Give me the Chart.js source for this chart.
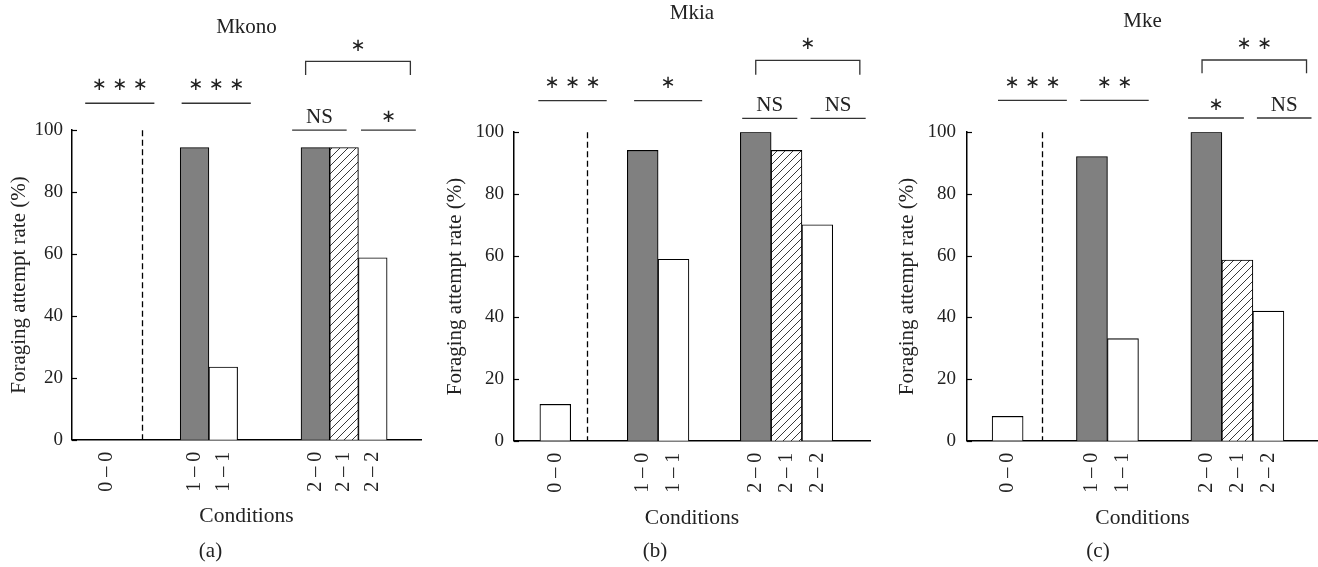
<!DOCTYPE html>
<html>
<head>
<meta charset="utf-8">
<script src="https://cdn.jsdelivr.net/npm/chart.js@4.4.1/dist/chart.umd.min.js"></script>
<style>
    body { margin: 0; background: #fff; }
    #wrap { position: relative; width: 1318px; height: 567px; }
    canvas { position: absolute; top: 0; }
</style>
</head>
<body>
<div id="wrap">
    <canvas id="chartA" width="440" height="567" style="left:0px"></canvas>
    <canvas id="chartB" width="438" height="567" style="left:440px"></canvas>
    <canvas id="chartC" width="440" height="567" style="left:878px"></canvas>
</div>
<script>
// data
var conditions = ["0 – 0", "1 – 0", "1 – 1", "2 – 0", "2 – 1", "2 – 2"];
var rateMkono = [0, 94.4, 23.5, 94.4, 94.4, 58.8];
var rateMkia = [11.8, 94.1, 58.8, 100, 94.1, 70.0];
var rateMke = [7.9, 92.1, 33.1, 100, 58.6, 42.0];
var yTickValues = [0, 20, 40, 60, 80, 100];
var monkeys = ["Mkono", "Mkia", "Mke"];
var panelTags = ["(a)", "(b)", "(c)"];
// significance: [0-0 vs rest, 1-0 vs 1-1, 2-0 vs 2-1, 2-1 vs 2-2, 2-0 vs 2-2]
var sigMkono = ["***", "***", "NS", "*", "*"];
var sigMkia = ["***", "*", "NS", "NS", "*"];
var sigMke = ["***", "**", "*", "NS", "**"];

var rates = [rateMkono, rateMkia, rateMke];
var sigs = [sigMkono, sigMkia, sigMke];

Chart.defaults.font.family = "'Liberation Serif', 'Times New Roman', serif";
Chart.defaults.color = "#222";

// hatch pattern for the 2 - 1 bars
function makeHatch() {
    var c = document.createElement("canvas");
    c.width = 8; c.height = 8;
    var g = c.getContext("2d");
    g.fillStyle = "#fff";
    g.fillRect(0, 0, 8, 8);
    g.strokeStyle = "#222";
    g.lineWidth = 0.9;
    g.beginPath();
    g.moveTo(0, 8); g.lineTo(8, 0);
    g.moveTo(-1, 1); g.lineTo(1, -1);
    g.moveTo(7, 9); g.lineTo(9, 7);
    g.stroke();
    return g.createPattern(c, "repeat");
}
var hatch = makeHatch();
var fills = ["#fff", "#808080", "#fff", "#808080", hatch, "#fff"];

// layout per panel (x in bar-width units, y in %)
var panels = [
    { id: "chartA", xMax: 12.16, xPos: [1.22, 4.27, 5.27, 8.48, 9.48, 10.48], dashX: 2.44,
      yAxisWidth: 72, yTitlePad: 7, yTickPad: 9, padRight: 19, xAxisHeight: 95, xTitlePad: 6,
      titlePad: { top: 15, bottom: 90 },
      lines: [[0.46, 2.87, 108.7, 17.5], [3.82, 6.23, 108.7, 17.5], [7.67, 9.57, 100, 12.5], [10.07, 11.98, 100, 12.5]],
      bracket: [8.14, 11.79, 122.2, 117.8] },
    { id: "chartB", xMax: 11.56, xPos: [1.34, 4.18, 5.18, 7.85, 8.85, 9.85], dashX: 2.38,
      yAxisWidth: 74, yTitlePad: 3, yTickPad: 10, padRight: 8, xAxisHeight: 94, xTitlePad: 4,
      titlePad: { top: 1, bottom: 106 },
      lines: [[0.79, 3.01, 110.2, 17.5], [3.9, 6.11, 110.2, 17.5], [7.41, 9.2, 104.5, 12.5], [9.63, 11.42, 104.5, 12.5]],
      bracket: [7.85, 11.23, 123.3, 118.6] },
    { id: "chartC", xMax: 11.32, xPos: [1.31, 4.03, 5.03, 7.72, 8.72, 9.72], dashX: 2.41,
      yAxisWidth: 89, yTitlePad: 16.5, yTickPad: 11, padRight: 0, xAxisHeight: 94, xTitlePad: 4,
      titlePad: { top: 9, bottom: 98 },
      lines: [[1.0, 3.22, 110.3, 17.5], [3.65, 5.86, 110.3, 17.5], [7.13, 8.93, 104.6, 12.5], [9.35, 11.11, 104.6, 12.5]],
      bracket: [7.58, 10.95, 123.4, 119.1] }
];

function drawMark(ctx, text, cx, cy) {
    ctx.textAlign = "center";
    ctx.textBaseline = "middle";
    if (text === "NS") {
        ctx.font = "21px 'Liberation Serif', serif";
        ctx.fillText(text, cx, cy);
        return;
    }
    ctx.font = "18px 'DejaVu Sans', sans-serif";
    var n = text.length;
    for (var i = 0; i < n; i++) {
        ctx.fillText("\u2217", cx + (i - (n - 1) / 2) * 20.5, cy);
    }
}

function sigPlugin(p, labels) {
    return {
        id: "sigMarks",
        afterDraw: function (chart) {
            var ctx = chart.ctx;
            var xs = chart.scales.x, ys = chart.scales.y, area = chart.chartArea;
            ctx.save();
            ctx.fillStyle = "#222";

            // y ticks pointing inward
            ctx.strokeStyle = "#000";
            ctx.lineWidth = 1.2;
            yTickValues.forEach(function (v) {
                var py = Math.round(ys.getPixelForValue(v)) + 0.5;
                ctx.beginPath();
                ctx.moveTo(area.left, py);
                ctx.lineTo(area.left + 5, py);
                ctx.stroke();
            });

            // dashed separator after 0 - 0
            var dx = Math.round(xs.getPixelForValue(p.dashX)) + 0.5;
            ctx.setLineDash([6, 3.5]);
            ctx.lineWidth = 1.3;
            ctx.beginPath();
            ctx.moveTo(dx, ys.getPixelForValue(100));
            ctx.lineTo(dx, ys.getPixelForValue(0));
            ctx.stroke();
            ctx.setLineDash([]);

            // significance lines
            ctx.strokeStyle = "#333";
            ctx.lineWidth = 1.3;
            p.lines.forEach(function (l, i) {
                var x0 = xs.getPixelForValue(l[0]), x1 = xs.getPixelForValue(l[1]);
                var py = ys.getPixelForValue(l[2]);
                ctx.beginPath();
                ctx.moveTo(x0, py);
                ctx.lineTo(x1, py);
                ctx.stroke();
                drawMark(ctx, labels[i], (x0 + x1) / 2, py - l[3]);
            });

            // bracket 2-0 vs 2-2
            var b = p.bracket;
            var bx0 = xs.getPixelForValue(b[0]), bx1 = xs.getPixelForValue(b[1]);
            var by = ys.getPixelForValue(b[2]), byl = ys.getPixelForValue(b[3]);
            ctx.beginPath();
            ctx.moveTo(bx0, byl);
            ctx.lineTo(bx0, by);
            ctx.lineTo(bx1, by);
            ctx.lineTo(bx1, byl);
            ctx.stroke();
            drawMark(ctx, labels[4], (bx0 + bx1) / 2, by - 15.5);

            ctx.restore();
        }
    };
}

panels.forEach(function (p, k) {
    var ctx = document.getElementById(p.id).getContext("2d");
    new Chart(ctx, {
        type: "bar",
        data: {
            datasets: [
                {
                    label: monkeys[k],
                    data: rates[k].map(function (v, i) { return { x: p.xPos[i], y: v }; }),
                    backgroundColor: fills,
                    borderColor: "#000",
                    borderWidth: 1.1,
                    barPercentage: 1,
                    categoryPercentage: 1,
                },
            ],
        },
        options: {
            responsive: false,
            animation: false,
            devicePixelRatio: 1,
            layout: { padding: { left: 0, right: p.padRight, top: 0, bottom: 0 } },
            plugins: {
                legend: { display: false },
                tooltip: { enabled: false },
                title: {
                    display: true,
                    text: monkeys[k],
                    fullSize: false,
                    color: "#222",
                    font: { size: 21, weight: "normal" },
                    padding: p.titlePad,
                },
                subtitle: {
                    display: true,
                    text: panelTags[k],
                    position: "bottom",
                    color: "#222",
                    font: { size: 21 },
                    padding: { top: 4, bottom: 3 },
                },
            },
            scales: {
                x: {
                    type: "linear",
                    min: 0,
                    max: p.xMax,
                    offset: false,
                    grid: { display: false, drawTicks: false, offset: false },
                    border: { display: true, color: "#000", width: 1.5 },
                    afterBuildTicks: function (scale) {
                        scale.ticks = p.xPos.map(function (v) { return { value: v }; });
                    },
                    afterFit: function (scale) { scale.height = p.xAxisHeight; },
                    ticks: {
                        autoSkip: false,
                        minRotation: 90,
                        maxRotation: 90,
                        padding: 12,
                        font: { size: 20 },
                        callback: function (v, i) { return conditions[i]; },
                    },
                    title: {
                        display: true,
                        text: "Conditions",
                        font: { size: 21.5 },
                        padding: { top: 0, bottom: p.xTitlePad },
                    },
                },
                y: {
                    min: 0,
                    max: 100,
                    grid: { display: false, drawTicks: false },
                    border: { display: true, color: "#000", width: 1.5 },
                    afterFit: function (scale) { scale.width = p.yAxisWidth; },
                    ticks: { stepSize: 20, padding: p.yTickPad, font: { size: 19 } },
                    title: {
                        display: true,
                        text: "Foraging attempt rate (%)",
                        font: { size: 21 },
                        padding: { top: p.yTitlePad, bottom: 0 },
                    },
                },
            },
        },
        plugins: [sigPlugin(p, sigs[k])],
    });
});
</script>
</body>
</html>
